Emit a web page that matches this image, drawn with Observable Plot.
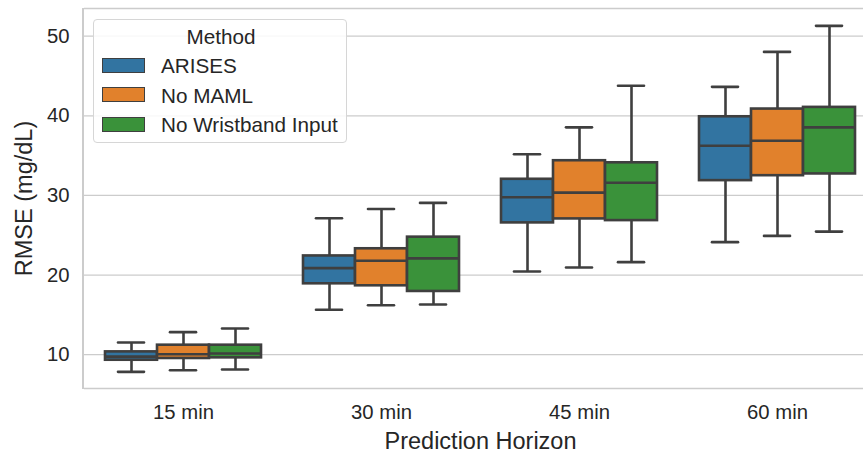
<!DOCTYPE html>
<html>
<head>
<meta charset="utf-8">
<script src="https://cdn.jsdelivr.net/npm/d3@7"></script>
<script src="https://cdn.jsdelivr.net/npm/@observablehq/plot@0.6"></script>
<style>
  body { margin: 0; background: #fff; }
  #wrap { position: relative; width: 863px; height: 452px; overflow: hidden;
          font-family: "Liberation Sans", Arial, sans-serif; color: #262626; }
  #chart svg { display: block; max-width: none !important; width: 876px !important; height: 452px !important; }
  #spine { position: absolute; left: 82.4px; top: 8px; width: 1.3px; height: 380.5px; background: #cccccc; }
  #legend { position: absolute; left: 93px; top: 19px; width: 254px; height: 124px; box-sizing: border-box;
            border: 1.2px solid #d6d6d6; border-radius: 4px; background: rgba(255,255,255,0.85);
            font-size: 20.7px; line-height: 20.7px; }
  #legend .title { position: absolute; left: 0; width: 254px; top: 7.2px; text-align: center; }
  #legend .patch { position: absolute; left: 8px; width: 43px; height: 15px; box-sizing: border-box; border: 1.5px solid #3f3f3f; }
  #legend .lab { position: absolute; left: 67px; white-space: nowrap; }
  g[aria-label$="axis label"] { font-size: 23.5px; }
</style>
</head>
<body>
<div id="wrap">
  <div id="chart"></div>
  <div id="spine"></div>
  <div id="legend"></div>
</div>
<script>
// Categories
const horizons = ["15 min", "30 min", "45 min", "60 min"];
const methods = ["ARISES", "No MAML", "No Wristband Input"];
const colors = ["#3274a1", "#e1812c", "#3a923a"];
const yTicks = [10, 20, 30, 40, 50];

// Box-plot summary values, [horizon][method]
const whiskerLow = [
  [7.84, 8.05, 8.14],
  [15.64, 16.2, 16.3],
  [20.45, 20.95, 21.62],
  [24.13, 24.92, 25.46]
];
const q1 = [
  [9.3, 9.52, 9.6],
  [18.9, 18.65, 17.94],
  [26.55, 27.05, 26.84],
  [31.86, 32.48, 32.7]
];
const median = [
  [9.75, 10.06, 10.15],
  [20.87, 21.8, 22.1],
  [29.77, 30.35, 31.6],
  [36.24, 36.87, 38.55]
];
const q3 = [
  [10.35, 11.19, 11.19],
  [22.4, 23.3, 24.76],
  [32.03, 34.36, 34.1],
  [39.88, 40.85, 41.06]
];
const whiskerHigh = [
  [11.53, 12.83, 13.29],
  [27.14, 28.3, 29.06],
  [35.17, 38.55, 43.77],
  [43.64, 48.03, 51.3]
];

const rows = horizons.flatMap((h, i) => methods.map((m, j) => ({
  horizon: h, method: m,
  lo: whiskerLow[i][j], q1: q1[i][j], med: median[i][j], q3: q3[i][j], hi: whiskerHigh[i][j]
})));

const edge = "#3f3f3f";
const lw = 2.6;
const yDomain = [5.75, 53.48];

const chart = Plot.plot({
  width: 876,
  height: 452,
  marginLeft: 83,
  marginRight: 0,
  marginTop: 8,
  marginBottom: 64,
  facet: { marginTop: 0, marginBottom: 0, marginLeft: 0, marginRight: 0 },
  style: { fontFamily: "'Liberation Sans', Arial, sans-serif", fontSize: "20.3px", color: "#262626", background: "transparent", maxWidth: "none" },
  fx: { domain: horizons, padding: 0, label: null, axis: null },
  x: { domain: methods, paddingInner: 0, paddingOuter: 0.375, axis: null },
  y: { domain: yDomain, axis: null },
  color: { domain: methods, range: colors },
  marks: [
    Plot.gridY(yTicks, { stroke: "#cccccc", strokeOpacity: 1, strokeWidth: 1.25 }),
    Plot.ruleY(yDomain, { stroke: "#cccccc", strokeWidth: 1.5 }),
    Plot.ruleX(rows, { fx: "horizon", x: "method", y1: "q3", y2: "hi", stroke: edge, strokeWidth: lw }),
    Plot.ruleX(rows, { fx: "horizon", x: "method", y1: "lo", y2: "q1", stroke: edge, strokeWidth: lw }),
    Plot.tickY(rows, { fx: "horizon", x: "method", y: "hi", insetLeft: 13, insetRight: 13, stroke: edge, strokeWidth: lw, strokeLinecap: "round" }),
    Plot.tickY(rows, { fx: "horizon", x: "method", y: "lo", insetLeft: 13, insetRight: 13, stroke: edge, strokeWidth: lw, strokeLinecap: "round" }),
    Plot.barY(rows, { fx: "horizon", x: "method", y1: "q1", y2: "q3", fill: "method", stroke: edge, strokeWidth: lw }),
    Plot.tickY(rows, { fx: "horizon", x: "method", y: "med", stroke: edge, strokeWidth: lw }),
    Plot.axisY(yTicks, { tickSize: 0, tickPadding: 15, label: "RMSE (mg/dL)", labelAnchor: "center", labelArrow: "none", labelOffset: 69 }),
    Plot.axisFx({ anchor: "bottom", tickSize: 0, tickPadding: 16, label: "Prediction Horizon", labelAnchor: "center", labelArrow: "none", labelOffset: 60 })
  ]
});
document.getElementById("chart").appendChild(chart);

// Legend
const legend = document.getElementById("legend");
const title = document.createElement("div");
title.className = "title";
title.textContent = "Method";
legend.appendChild(title);
methods.forEach((m, i) => {
  const p = document.createElement("div");
  p.className = "patch";
  p.style.top = (38 + i * 29.3) + "px";
  p.style.background = colors[i];
  legend.appendChild(p);
  const t = document.createElement("div");
  t.className = "lab";
  t.style.top = (36.2 + i * 29.3) + "px";
  t.textContent = m;
  legend.appendChild(t);
});
</script>
</body>
</html>
